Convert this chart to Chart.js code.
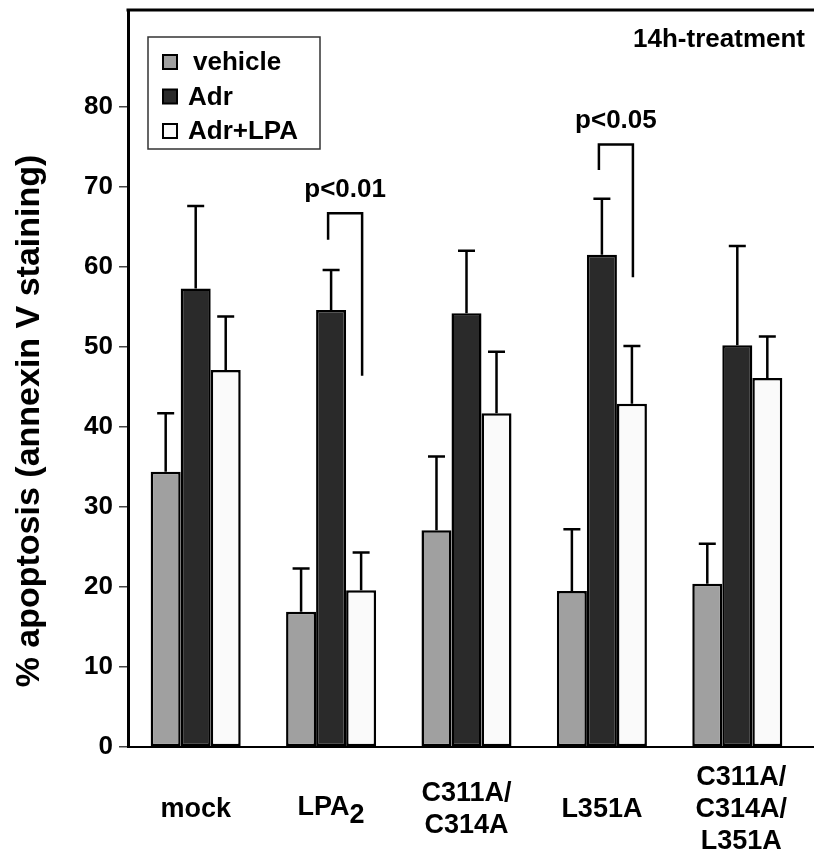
<!DOCTYPE html>
<html>
<head>
<meta charset="utf-8">
<script src="https://cdn.jsdelivr.net/npm/chart.js@4.4.1/dist/chart.umd.min.js"></script>
<style>
  html, body { margin: 0; padding: 0; background: #fff; }
  #wrap { width: 814px; height: 862px; position: relative; }
</style>
</head>
<body>
<div id="wrap"><canvas id="chart"></canvas></div>
<script>
var categories = ['mock', 'LPA2', 'C311A/C314A', 'L351A', 'C311A/C314A/L351A'];
var seriesNames = ['vehicle', 'Adr', 'Adr+LPA'];
var seriesColors = ['#a0a0a0', '#2a2a2a', '#fafafa'];

var vehicle    = [34.4, 16.9, 27.1, 19.5, 20.4];
var vehicleErr = [7.3, 5.4, 9.2, 7.7, 5.0];
var adr        = [57.3, 54.6, 54.2, 61.5, 50.2];
var adrErr     = [10.3, 5.0, 7.8, 7.0, 12.4];
var adrLpa     = [47.1, 19.6, 41.7, 42.9, 46.1];
var adrLpaErr  = [6.7, 4.7, 7.7, 7.2, 5.2];

var yTicks = [0, 10, 20, 30, 40, 50, 60, 70, 80];

// significance brackets (Adr vs Adr+LPA)
var bracketCats   = [1, 3];
var bracketTops   = [66.7, 75.3];
var bracketLeft   = [63.4, 72.1];
var bracketRight  = [46.4, 58.7];
var bracketLabels = ['p<0.01', 'p<0.05'];

var FONT = "'Liberation Sans', Arial, sans-serif";
Chart.defaults.font.family = FONT;
Chart.defaults.color = '#000';

var errors = [vehicleErr, adrErr, adrLpaErr];

var extras = {
  id: 'extras',
  afterDatasetsDraw: function(chart) {
    var ctx = chart.ctx;
    var y = chart.scales.y;
    ctx.save();
    ctx.strokeStyle = '#000';
    ctx.lineWidth = 2.5;
    chart.data.datasets.forEach(function(ds, di) {
      var meta = chart.getDatasetMeta(di);
      meta.data.forEach(function(bar, i) {
        var top = y.getPixelForValue(ds.data[i] + errors[di][i]);
        var base = y.getPixelForValue(ds.data[i]);
        ctx.beginPath();
        ctx.moveTo(bar.x, base);
        ctx.lineTo(bar.x, top);
        ctx.moveTo(bar.x - 8.5, top);
        ctx.lineTo(bar.x + 8.5, top);
        ctx.stroke();
      });
    });
    ctx.restore();
  },
  afterDraw: function(chart) {
    var ctx = chart.ctx;
    var area = chart.chartArea;
    var x = chart.scales.x;
    var y = chart.scales.y;
    var W = chart.width;
    ctx.save();

    // frame top + baseline running to the edge
    ctx.strokeStyle = '#000';
    ctx.lineWidth = 3;
    ctx.beginPath();
    ctx.moveTo(area.left - 1.5, area.top);
    ctx.lineTo(W, area.top);
    ctx.stroke();
    ctx.lineWidth = 2;
    ctx.beginPath();
    ctx.moveTo(area.right, area.bottom);
    ctx.lineTo(W, area.bottom);
    ctx.stroke();

    // brackets
    var m1 = chart.getDatasetMeta(1), m2 = chart.getDatasetMeta(2);
    ctx.lineWidth = 2.5;
    ctx.font = 'bold 26px ' + FONT;
    ctx.fillStyle = '#000';
    ctx.textAlign = 'center';
    ctx.textBaseline = 'alphabetic';
    bracketCats.forEach(function(c, k) {
      var xl = m1.data[c].x - 3, xr = m2.data[c].x + 1;
      var yt = y.getPixelForValue(bracketTops[k]);
      ctx.beginPath();
      ctx.moveTo(xl, y.getPixelForValue(bracketLeft[k]));
      ctx.lineTo(xl, yt);
      ctx.lineTo(xr, yt);
      ctx.lineTo(xr, y.getPixelForValue(bracketRight[k]));
      ctx.stroke();
      ctx.fillText(bracketLabels[k], (xl + xr) / 2, yt - 16);
    });

    // treatment note
    ctx.textAlign = 'right';
    ctx.fillText('14h-treatment', area.right, 47);

    // legend
    ctx.lineWidth = 1.5;
    ctx.strokeStyle = '#333';
    ctx.strokeRect(148, 37, 172, 112);
    ctx.textAlign = 'left';
    ctx.textBaseline = 'middle';
    seriesNames.forEach(function(n, i) {
      var cy = 62 + i * 34.5;
      ctx.fillStyle = seriesColors[i];
      ctx.fillRect(163, cy - 7, 14, 14);
      ctx.strokeStyle = '#000';
      ctx.lineWidth = 2;
      ctx.strokeRect(163, cy - 7, 14, 14);
      ctx.fillStyle = '#000';
      ctx.fillText(n, i === 0 ? 193 : 188, cy + 1);
    });

    // category labels
    ctx.font = 'bold 27px ' + FONT;
    ctx.textBaseline = 'middle';
    categories.forEach(function(lab, i) {
      var cx = x.getPixelForValue(i);
      var sub = lab.match(/^(\D+)(\d)$/);
      if (sub) {
        var w1 = ctx.measureText(sub[1]).width;
        var w2 = ctx.measureText(sub[2]).width;
        var sx = cx - (w1 + w2) / 2;
        ctx.textAlign = 'left';
        ctx.fillText(sub[1], sx, 808);
        ctx.fillText(sub[2], sx + w1, 816);
        return;
      }
      var parts = lab.split('/');
      var lines = parts.map(function(p, j) { return j < parts.length - 1 ? p + '/' : p; });
      var lh = 32;
      var y0 = 810 - (lines.length - 1) * lh / 2;
      ctx.textAlign = 'center';
      lines.forEach(function(t, j) {
        ctx.fillText(t, cx + (lines.length > 2 ? 4 : 0), y0 + j * lh);
      });
    });

    // y axis title
    ctx.translate(30, 421);
    ctx.rotate(-Math.PI / 2);
    ctx.textAlign = 'center';
    ctx.font = 'bold 34px ' + FONT;
    ctx.fillText('% apoptosis (annexin V staining)', 0, 0);
    ctx.restore();
  }
};

var datasets = [vehicle, adr, adrLpa].map(function(d, i) {
  return {
    label: seriesNames[i],
    data: d,
    backgroundColor: seriesColors[i],
    borderColor: '#000',
    borderWidth: 2.5,
    borderSkipped: false,
    barPercentage: 1,
    categoryPercentage: 0.665
  };
});

new Chart(document.getElementById('chart'), {
  type: 'bar',
  data: { labels: categories, datasets: datasets },
  options: {
    responsive: true,
    maintainAspectRatio: false,
    animation: false,
    layout: { padding: { top: 10, right: 9, left: 0, bottom: 0 } },
    plugins: { legend: { display: false }, tooltip: { enabled: false } },
    scales: {
      x: {
        grid: { display: true, drawOnChartArea: false, drawTicks: false },
        border: { display: true, color: '#000', width: 2 },
        ticks: { display: false },
        afterFit: function(s) { s.height = 115; s.paddingLeft = 0; s.paddingRight = 0; }
      },
      y: {
        min: 0,
        max: 92.1,
        afterBuildTicks: function(s) {
          s.ticks = yTicks.map(function(v) { return { value: v }; });
        },
        grid: { drawOnChartArea: false, tickLength: 9, color: '#444', lineWidth: 1.5 },
        border: { display: true, color: '#000', width: 3 },
        ticks: { font: { size: 26, weight: 'bold' }, color: '#000', padding: 6 },
        afterFit: function(s) { s.width = 128; s.paddingTop = 0; s.paddingBottom = 0; }
      }
    }
  },
  plugins: [extras]
});
</script>
</body>
</html>
